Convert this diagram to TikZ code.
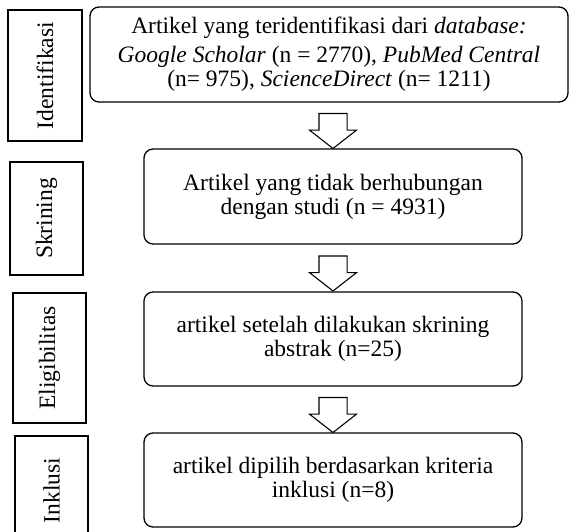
\documentclass[tikz,border=0pt]{standalone}
\usepackage{fontspec}
\setmainfont{Liberation Serif}
\usetikzlibrary{shapes,arrows,positioning,calc}

\begin{document}
\begin{tikzpicture}[x=1pt, y=-1pt, font=\fontsize{23.5}{24}\selectfont,
    kotak/.style={draw, line width=1.3pt, rounded corners=9pt, align=center, inner sep=0pt},
    tahap/.style={draw, line width=1.2pt, rotate=90, inner sep=0pt},
    panah/.style={draw, line width=1.1pt, single arrow, shape border rotate=270,
        text width=27pt, minimum height=35, single arrow head extend=9.5pt,
        single arrow tip angle=104, inner sep=0pt}]
            \useasboundingbox (0,0) rectangle (571,531);
            % tahapan
            \node[tahap, minimum width=131, minimum height=74] (s1) at (45,75.5) {Identifikasi};
            \node[tahap, minimum width=113, minimum height=73] (s2) at (46.5,218.5) {Skrining};
            \node[tahap, minimum width=130, minimum height=73] (s3) at (49.5,358) {Eligibilitas};
            \node[tahap, minimum width=109, minimum height=73] (s4) at (51.5,490.5) {Inklusi};
            % kotak utama
            \node[kotak, minimum width=478, minimum height=95] (ident) at (329,54.5)
                {Artikel yang teridentifikasi dari \textit{database:}\\[5pt]
                 \textit{Google Scholar} (n = 2770), \textit{PubMed Central}\\
                 (n= 975), \textit{ScienceDirect} (n= 1211)};
            \node[kotak, minimum width=378, minimum height=95] (skrin) at (333,196.5)
                {Artikel yang tidak berhubungan\\ dengan studi (n = 4931)};
            \node[kotak, minimum width=378, minimum height=94] (elig) at (333,339)
                {artikel setelah dilakukan skrining\\ abstrak (n=25)};
            \node[kotak, minimum width=378, minimum height=94] (inkl) at (333,480)
                {artikel dipilih berdasarkan kriteria\\ inklusi (n=8)};
            % panah
            \node[panah] (p1) at ($(ident.south -| skrin.north)!0.5!(skrin.north)$) {};
            \node[panah] (p2) at ($(skrin.south)!0.5!(elig.north)$) {};
            \node[panah] (p3) at ($(elig.south)!0.5!(inkl.north)$) {};
        \end{tikzpicture}
\end{document}
